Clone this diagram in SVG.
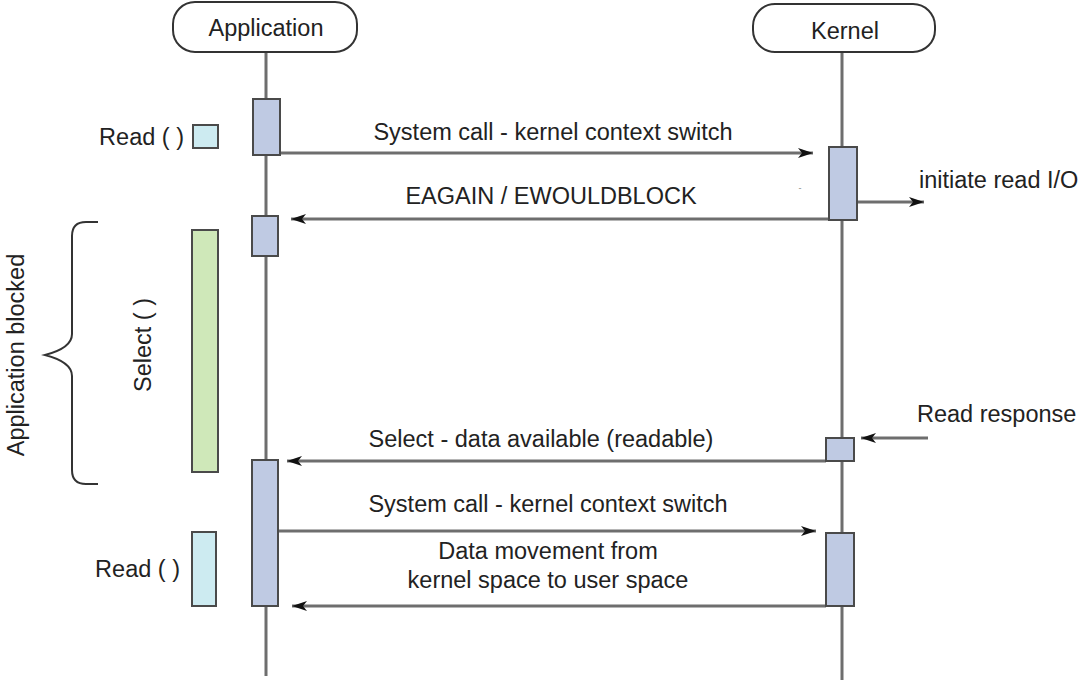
<svg xmlns="http://www.w3.org/2000/svg" width="1082" height="680" viewBox="0 0 1082 680">
<defs>
<marker id="ah" markerWidth="16" markerHeight="12" refX="15" refY="6" orient="auto" markerUnits="userSpaceOnUse">
<path d="M0,1 L15,6 L0,11 L4,6 Z" fill="#111"/>
</marker>
</defs>
<style>
text{font-family:"Liberation Sans",Arial,sans-serif;font-size:23.5px;fill:#222}
.life{stroke:#6e6e6e;stroke-width:3;fill:none}
.act{fill:#bfcae3;stroke:#4a4a4a;stroke-width:2}
.rd{fill:#cdebf1;stroke:#4a4a4a;stroke-width:2}
.sel{fill:#cfe8b9;stroke:#4a4a4a;stroke-width:2}
.hdr{fill:#fff;stroke:#333;stroke-width:2}
.msg{stroke:#6e6e6e;stroke-width:3;fill:none}
.brace{stroke:#333;stroke-width:2;fill:none}
</style>
<rect width="1082" height="680" fill="#fff"/>

<g id="lifelines">
<line class="life" x1="266" y1="52" x2="266" y2="676"/>
<line class="life" x1="842" y1="52" x2="842" y2="680"/>
</g>

<g id="application">
<rect class="hdr" x="173" y="2" width="184" height="50" rx="22"/>
<text x="266" y="36" text-anchor="middle">Application</text>
</g>
<g id="kernel">
<rect class="hdr" x="753" y="4" width="182" height="48" rx="22"/>
<text x="845" y="39" text-anchor="middle">Kernel</text>
</g>

<g id="connectors">
<line class="msg" x1="280" y1="153" x2="813" y2="153" marker-end="url(#ah)"/>
<line class="msg" x1="829" y1="219" x2="291" y2="219" marker-end="url(#ah)"/>
<line class="msg" x1="857" y1="202" x2="924" y2="202" marker-end="url(#ah)"/>
<line class="msg" x1="928" y1="438" x2="861" y2="438" marker-end="url(#ah)"/>
<line class="msg" x1="826" y1="461" x2="287" y2="461" marker-end="url(#ah)"/>
<line class="msg" x1="278" y1="531" x2="816" y2="531" marker-end="url(#ah)"/>
<line class="msg" x1="826" y1="606" x2="292" y2="606" marker-end="url(#ah)"/>
</g>

<g id="app-act-1"><rect class="act" x="253" y="99" width="27" height="56"/></g>
<g id="app-act-2"><rect class="act" x="252" y="216" width="26" height="40"/></g>
<g id="app-act-3"><rect class="act" x="252" y="460" width="26" height="146"/></g>
<g id="kernel-act-1"><rect class="act" x="829" y="147" width="28" height="73"/></g>
<g id="kernel-act-2"><rect class="act" x="826" y="438" width="28" height="23"/></g>
<g id="kernel-act-3"><rect class="act" x="826" y="533" width="28" height="73"/></g>

<g id="read-1">
<rect class="rd" x="193" y="125" width="25" height="23"/>
<text x="184" y="145" text-anchor="end">Read ( )</text>
</g>
<g id="select">
<rect class="sel" x="192" y="230" width="26" height="242"/>
<text transform="translate(151,345) rotate(-90)" text-anchor="middle">Select ( )</text>
</g>
<g id="read-2">
<rect class="rd" x="192" y="532" width="24" height="74"/>
<text x="180" y="577" text-anchor="end">Read ( )</text>
</g>
<g id="blocked">
<path class="brace" d="M98,222 H86 Q72,222 72,236 V334 Q72,348 45,355 Q72,362 72,376 V470 Q72,484 86,484 H98"/>
<text transform="translate(24,355) rotate(-90)" text-anchor="middle">Application blocked</text>
</g>

<g id="labels">
<text x="553" y="140" text-anchor="middle">System call - kernel context switch</text>
<text x="551" y="204" text-anchor="middle">EAGAIN / EWOULDBLOCK</text>
<text x="800" y="191" text-anchor="middle" style="font-size:9px;fill:#888">-</text>
<text x="919" y="188">initiate read I/O</text>
<text x="917" y="422">Read response</text>
<text x="541" y="447" text-anchor="middle">Select - data available (readable)</text>
<text x="548" y="512" text-anchor="middle">System call - kernel context switch</text>
<text x="548" y="559" text-anchor="middle">Data movement from</text>
<text x="548" y="588" text-anchor="middle">kernel space to user space</text>
</g>
</svg>
